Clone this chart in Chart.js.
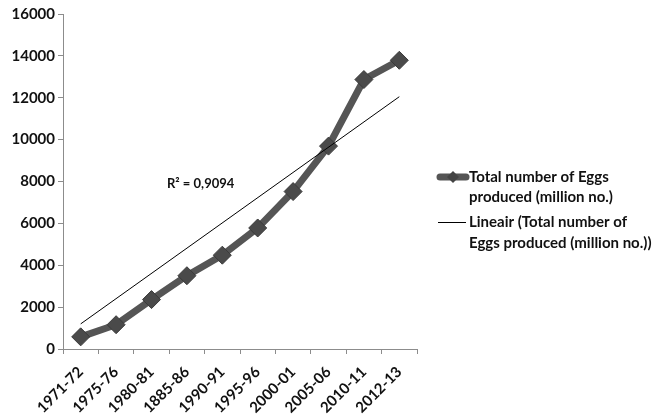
<!DOCTYPE html>
<html><head><meta charset="utf-8">
<script src="https://cdn.jsdelivr.net/npm/chart.js@4/dist/chart.umd.min.js"></script>
<style>html,body{margin:0;padding:0;background:#fff}#wrap{width:659px;height:416px;position:relative}</style>
</head><body><div id="wrap"><canvas id="c" width="659" height="416"></canvas></div>
<script>
const categories = ["1971-72","1975-76","1980-81","1885-86","1990-91","1995-96","2000-01","2005-06","2010-11","2012-13"];
const eggs = [580, 1160, 2360, 3500, 4480, 5780, 7520, 9690, 12870, 13790];
const trendStart = 1200;
const trendEnd = 12050;
const yTicks = [0,2000,4000,6000,8000,10000,12000,14000,16000];
const seriesLabel = ["Total number of Eggs", "produced (million no.)"];
const trendLabel = ["Lineair (Total number of", "Eggs produced (million no.))"];
const r2Text = "R² = 0,9094";

const trend = categories.map((c,i)=> i===0 ? trendStart : (i===categories.length-1 ? trendEnd : null));
const FONT = "Lato, 'Open Sans', sans-serif";

const legendPlugin = {
  id:'customLegend',
  afterDraw(chart){
    const ctx = chart.ctx;
    ctx.save();
    ctx.font = "bold 15px " + FONT;
    ctx.fillStyle = "#111";
    ctx.textBaseline = "middle";
    ctx.textAlign = "left";
    const tx = 469;
    ctx.strokeStyle = "#555"; ctx.lineWidth = 7; ctx.lineCap = "round";
    ctx.beginPath(); ctx.moveTo(440,177); ctx.lineTo(466,177); ctx.stroke();
    ctx.fillStyle = "#444";
    ctx.beginPath(); ctx.moveTo(453,171); ctx.lineTo(459,177); ctx.lineTo(453,183); ctx.lineTo(447,177); ctx.closePath(); ctx.fill();
    ctx.fillStyle = "#111";
    ctx.fillText(seriesLabel[0], tx, 177);
    ctx.fillText(seriesLabel[1], tx, 197);
    ctx.strokeStyle = "#000"; ctx.lineWidth = 1; ctx.lineCap = "butt";
    ctx.beginPath(); ctx.moveTo(438,222.5); ctx.lineTo(466,222.5); ctx.stroke();
    ctx.fillText(trendLabel[0], tx, 222);
    ctx.fillText(trendLabel[1], tx, 243);
    ctx.font = "bold 13px " + FONT;
    ctx.fillText(r2Text, 167, 184);
    ctx.restore();
  }
};

new Chart(document.getElementById('c'), {
  type:'line',
  data:{
    labels: categories,
    datasets:[
      {label: seriesLabel.join(' '), data: eggs, borderColor:'#555555', backgroundColor:'#484848',
       borderWidth:7, pointStyle:'rectRot', pointRadius:9, pointBorderWidth:1, pointBorderColor:'#3a3a3a',
       pointBackgroundColor:'#4a4a4a', tension:0, order:1},
      {label: trendLabel.join(' '), data: trend, borderColor:'#000', borderWidth:1, pointRadius:0,
       spanGaps:true, fill:false, order:0}
    ]
  },
  options:{
    responsive:false, animation:false,
    layout:{padding:{left:0, right:242, top:14, bottom:0}},
    plugins:{legend:{display:false}, tooltip:{enabled:false}},
    scales:{
      x:{
        offset:true,
        grid:{display:true, drawOnChartArea:false, offset:true, color:'#8c8c8c', tickLength:5},
        border:{color:'#8c8c8c', width:1},
        ticks:{font:{family:FONT, weight:'bold', size:15}, color:'#111', maxRotation:45, minRotation:45, padding:9},
        afterFit(a){ a.height = 67; }
      },
      y:{
        min:0, max:16000,
        afterBuildTicks(a){ a.ticks = yTicks.map(v=>({value:v})); },
        grid:{display:true, drawOnChartArea:false, color:'#8c8c8c', tickLength:5},
        border:{color:'#8c8c8c', width:1},
        ticks:{font:{family:FONT, weight:'bold', size:15}, color:'#111', padding:3,
               callback:(v)=>String(v)},
        afterFit(a){ a.width = 63; }
      }
    }
  },
  plugins:[legendPlugin]
});
</script>
</body></html>
